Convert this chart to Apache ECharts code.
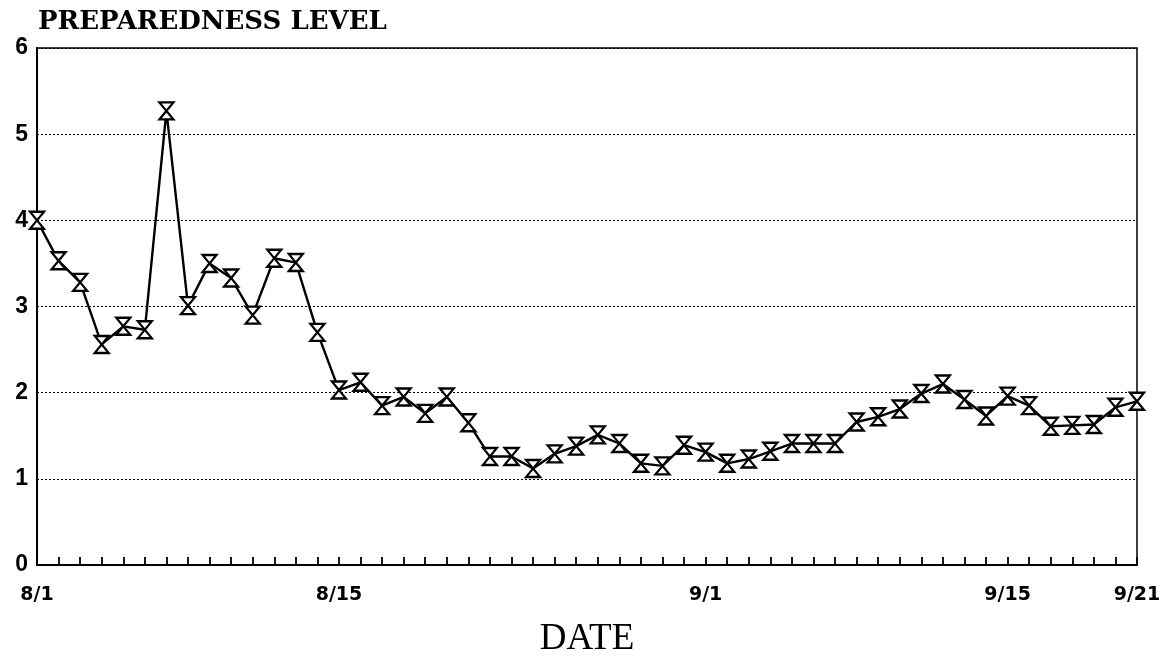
<!DOCTYPE html>
<html>
<head>
<meta charset="utf-8">
<script src="https://cdn.jsdelivr.net/npm/echarts@6/dist/echarts.min.js"></script>
<style>
html,body{margin:0;padding:0;background:#fff;}
#chart{width:1167px;height:660px;}
</style>
</head>
<body>
<div id="chart"></div>
<script>
const dates = ['8/1','8/2','8/3','8/4','8/5','8/6','8/7','8/8','8/9','8/10','8/11','8/12','8/13','8/14','8/15','8/16','8/17','8/18','8/19','8/20','8/21','8/22','8/23','8/24','8/25','8/26','8/27','8/28','8/29','8/30','8/31',
  '9/1','9/2','9/3','9/4','9/5','9/6','9/7','9/8','9/9','9/10','9/11','9/12','9/13','9/14','9/15','9/16','9/17','9/18','9/19','9/20','9/21'];
const preparedness = [4.0,3.53,3.28,2.56,2.77,2.73,5.27,3.01,3.50,3.33,
  2.90,3.56,3.51,2.70,2.03,2.12,1.85,1.95,1.76,1.95,
  1.65,1.26,1.26,1.12,1.29,1.38,1.51,1.41,1.18,1.15,
  1.39,1.31,1.18,1.23,1.32,1.41,1.41,1.41,1.66,1.72,
  1.81,1.99,2.10,1.92,1.73,1.96,1.85,1.61,1.62,1.63,
  1.83,1.90];
const labelledDates = ['8/1','8/15','9/1','9/15','9/21'];
const yTicks = [0,1,2,3,4,5,6];

const chart = echarts.init(document.getElementById('chart'), null, {renderer:'canvas'});
chart.setOption({
  backgroundColor:'#fff',
  animation:false,
  title:{
    text:'PREPAREDNESS LEVEL',
    left:33, top:4,
    textStyle:{fontFamily:'DejaVu Serif', fontWeight:'bold', fontSize:26, color:'#000'}
  },
  grid:{left:37, right:30, top:48, bottom:95, show:true, borderColor:'#000', borderWidth:1.5,
        backgroundColor:'transparent', containLabel:false, outerBoundsMode:'none'},
  xAxis:{
    type:'category',
    data:dates,
    boundaryGap:false,
    name:'DATE',
    nameLocation:'middle',
    nameGap:56,
    nameTextStyle:{fontFamily:'Liberation Serif', fontSize:37, color:'#000'},
    axisLine:{show:true, lineStyle:{color:'#000', width:2}},
    axisTick:{show:true, inside:true, length:8, interval:0, lineStyle:{color:'#000', width:1.8}},
    axisLabel:{
      interval:function(i, v){ return labelledDates.indexOf(v) >= 0; },
      margin:21,
      fontFamily:'DejaVu Sans', fontWeight:'bold', fontSize:19, color:'#000'
    },
    splitLine:{show:false}
  },
  yAxis:{
    type:'value',
    min:yTicks[0], max:yTicks[yTicks.length-1], interval:1,
    axisLine:{show:true, lineStyle:{color:'#000', width:2}},
    axisTick:{show:false},
    axisLabel:{margin:9, fontFamily:'Liberation Sans', fontWeight:'bold', fontSize:23, color:'#000'},
    splitLine:{show:true, lineStyle:{color:'#000', type:[2,2], width:1}}
  },
  series:[{
    type:'line',
    data:preparedness,
    symbol:'path://M0,0 L12,0 L6,7 L12,14 L0,14 L6,7 Z',
    symbolSize:[14,17],
    showAllSymbol:true,
    lineStyle:{color:'#000', width:2.4},
    itemStyle:{color:'#fff', borderColor:'#000', borderWidth:2.2},
    z:5
  }]
});
</script>
</body>
</html>
